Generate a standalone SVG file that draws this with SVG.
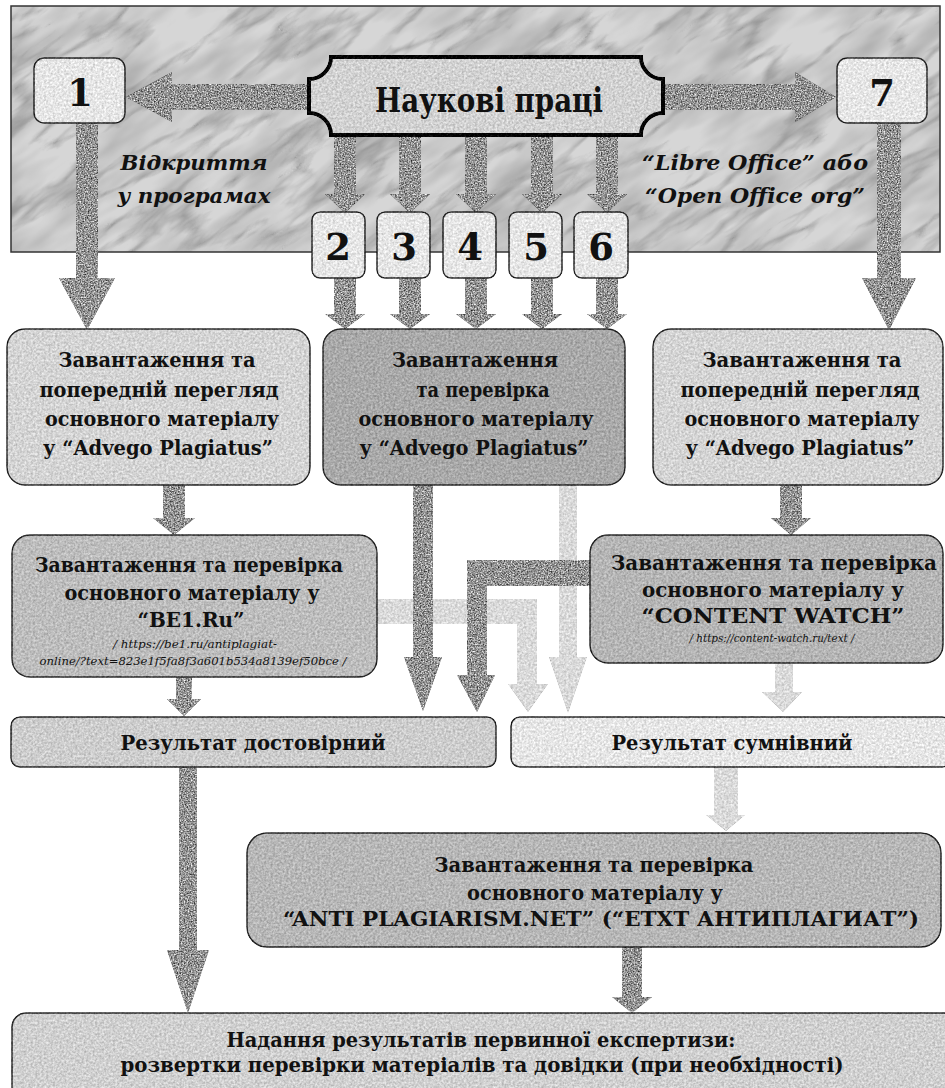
<svg xmlns="http://www.w3.org/2000/svg" width="945" height="1088" viewBox="0 0 945 1088">
<style>
.t{font-family:"DejaVu Serif","Liberation Serif",serif;font-weight:bold;font-stretch:condensed;fill:#111;text-anchor:middle}
.f25{font-size:21px}
.num{font-size:37px;font-stretch:normal}
.lab{font-family:"DejaVu Serif","Liberation Serif",serif;font-weight:bold;font-style:italic;font-stretch:condensed;font-size:21px;fill:#111;text-anchor:middle}
.url{font-family:"DejaVu Serif","Liberation Serif",serif;font-style:italic;font-stretch:condensed;font-size:11.5px;fill:#111;text-anchor:middle}
.bx{stroke:#262626;stroke-width:1.5}
.arr{fill:#939393}
.arrL{fill:#dadada}
</style>
<defs>
<filter id="grain" x="-3%" y="-3%" width="106%" height="106%" color-interpolation-filters="sRGB">
<feTurbulence type="fractalNoise" baseFrequency="0.45" numOctaves="2" seed="2" result="n"/>
<feColorMatrix in="n" type="matrix" values="1 0 0 0 0 1 0 0 0 0 1 0 0 0 0 0 0 0 0 1" result="g"/>
<feComposite in="SourceGraphic" in2="g" operator="arithmetic" k1="0" k2="1" k3="0.35" k4="-0.175" result="c"/>
<feComposite in="c" in2="SourceAlpha" operator="in"/>
</filter>
<filter id="granite" x="-3%" y="-3%" width="106%" height="106%" color-interpolation-filters="sRGB">
<feTurbulence type="fractalNoise" baseFrequency="0.7" numOctaves="2" seed="5" result="n"/>
<feColorMatrix in="n" type="matrix" values="1 0 0 0 0 1 0 0 0 0 1 0 0 0 0 0 0 0 0 1" result="g"/>
<feComposite in="SourceGraphic" in2="g" operator="arithmetic" k1="0" k2="1" k3="1.2" k4="-0.6" result="c"/>
<feComposite in="c" in2="SourceAlpha" operator="in"/>
</filter>
<filter id="marble" x="0" y="0" width="1" height="1" color-interpolation-filters="sRGB">
<feTurbulence type="turbulence" baseFrequency="0.008 0.03" numOctaves="4" seed="7" result="t"/>
<feColorMatrix in="t" type="matrix" values="0 0 0 0 0.45 0 0 0 0 0.45 0 0 0 0 0.45 -2.0 0 0 0 0.5" result="veins"/>
<feTurbulence type="fractalNoise" baseFrequency="0.012 0.04" numOctaves="3" seed="3" result="f"/>
<feColorMatrix in="f" type="matrix" values="0 0 0 0 0.62 0 0 0 0 0.62 0 0 0 0 0.62 1.4 0 0 0 -0.5" result="cloud"/>
<feFlood flood-color="#d6d6d6" result="base"/>
<feMerge><feMergeNode in="base"/><feMergeNode in="cloud"/><feMergeNode in="veins"/></feMerge>
</filter>
<clipPath id="panelClip"><rect x="11" y="6" width="929" height="246"/></clipPath>
</defs>

<rect x="0" y="0" width="945" height="1088" fill="#ffffff"/>

<g id="background">
<g clip-path="url(#panelClip)">
<g transform="rotate(-35 475 130)">
<rect x="-250" y="-450" width="1450" height="1150" filter="url(#marble)"/>
</g>
</g>
<rect x="11" y="6" width="929" height="246" fill="none" stroke="#333" stroke-width="1.5"/>
</g>

<g id="connectors">
<g filter="url(#grain)">
<polygon class="arrL" points="377,599 537,599 537,684 548,684 528,712 508,684 517,684 517,624 377,624"/>
<polygon class="arrL" points="559,485 577,485 577,657 587,657 568,713 549,657 559,657"/>
<polygon class="arrL" points="775,663 793,663 793,692 802,692 783,712 762,692 775,692"/>
<polygon class="arrL" points="714,767 738,767 738,815 745,815 726,831 706,815 714,815"/>
</g>
<g filter="url(#granite)">
<polygon class="arr" points="309,84 172,84 172,72 126,97 172,122 172,110 309,110"/>
<polygon class="arr" points="663,84 795,84 795,72 836,97 795,122 795,110 663,110"/>
<polygon class="arr" points="76,123 98,123 98,278 115,278 87,330 59,278 76,278"/>
<polygon class="arr" points="877,123 901,123 901,278 916,278 889,330 862,278 877,278"/>
<polygon class="arr" points="334,135 356,135 356,194 365,194 345,213 325,194 334,194"/>
<polygon class="arr" points="399,135 421,135 421,194 430,194 410,213 390,194 399,194"/>
<polygon class="arr" points="465,135 487,135 487,194 496,194 476,213 456,194 465,194"/>
<polygon class="arr" points="531,135 553,135 553,194 562,194 542,213 522,194 531,194"/>
<polygon class="arr" points="596,135 618,135 618,194 627,194 607,213 587,194 596,194"/>
<polygon class="arr" points="334,278 356,278 356,314 365,314 345,329 325,314 334,314"/>
<polygon class="arr" points="399,278 421,278 421,314 430,314 410,329 390,314 399,314"/>
<polygon class="arr" points="465,278 487,278 487,314 496,314 476,329 456,314 465,314"/>
<polygon class="arr" points="531,278 553,278 553,314 562,314 542,329 522,314 531,314"/>
<polygon class="arr" points="596,278 618,278 618,314 627,314 607,329 587,314 596,314"/>
<polygon class="arr" points="163,485 185,485 185,518 195,518 174,535 153,518 163,518"/>
<polygon class="arr" points="780,485 802,485 802,518 811,518 791,535 771,518 780,518"/>
<polygon class="arr" points="413,485 433,485 433,657 442,657 423,711 404,657 413,657"/>
<polygon class="arr" points="590,560 467,560 467,675 457,675 477,712 495,675 487,675 487,586 590,586"/>
<polygon class="arr" points="176,677 192,677 192,699 201,699 184,716 167,699 176,699"/>
<polygon class="arr" points="179,767 197,767 197,950 209,950 188,1013 167,950 179,950"/>
<polygon class="arr" points="622,947 642,947 642,997 652,997 632,1013 612,997 622,997"/>
</g>
</g>

<g id="n-works">
<path d="M331,57 H641 A22,22 0 0 0 663,79 V113 A22,22 0 0 0 641,135 H331 A22,22 0 0 0 309,113 V79 A22,22 0 0 0 331,57 Z" fill="#d2d2d2" stroke="#000" stroke-width="4" filter="url(#grain)"/>
<text class="t" x="489" y="112" font-size="33" textLength="228" lengthAdjust="spacingAndGlyphs">Наукові праці</text>
</g>

<g id="n-1">
<rect class="bx" x="34" y="58" width="91" height="65" rx="10" fill="#e6e6e6" filter="url(#grain)"/>
<text class="t num" x="80" y="106">1</text>
</g>
<g id="n-7">
<rect class="bx" x="837" y="58" width="90" height="65" rx="10" fill="#e6e6e6" filter="url(#grain)"/>
<text class="t num" x="882" y="106">7</text>
</g>
<g id="n-2">
<rect class="bx" x="312" y="212" width="53" height="66" rx="8" fill="#e6e6e6" filter="url(#grain)"/>
<text class="t num" x="338" y="260">2</text>
</g>
<g id="n-3">
<rect class="bx" x="377" y="212" width="53" height="66" rx="8" fill="#e6e6e6" filter="url(#grain)"/>
<text class="t num" x="404" y="260">3</text>
</g>
<g id="n-4">
<rect class="bx" x="443" y="212" width="53" height="66" rx="8" fill="#e6e6e6" filter="url(#grain)"/>
<text class="t num" x="470" y="260">4</text>
</g>
<g id="n-5">
<rect class="bx" x="509" y="212" width="53" height="66" rx="8" fill="#e6e6e6" filter="url(#grain)"/>
<text class="t num" x="536" y="260">5</text>
</g>
<g id="n-6">
<rect class="bx" x="574" y="212" width="54" height="66" rx="8" fill="#e6e6e6" filter="url(#grain)"/>
<text class="t num" x="601" y="260">6</text>
</g>

<g id="labels">
<text class="lab" x="194" y="170" textLength="147" lengthAdjust="spacingAndGlyphs">Відкриття</text>
<text class="lab" x="194" y="203" textLength="153" lengthAdjust="spacingAndGlyphs">у програмах</text>
<text class="lab" x="755" y="170" textLength="226" lengthAdjust="spacingAndGlyphs">“Libre Office” або</text>
<text class="lab" x="755" y="203" textLength="220" lengthAdjust="spacingAndGlyphs">“Open Office org”</text>
</g>

<g id="n-adv-left">
<rect class="bx" x="7" y="329" width="303" height="156" rx="18" fill="#d4d4d4" filter="url(#grain)"/>
<text class="t f25" x="157" y="367" textLength="197" lengthAdjust="spacingAndGlyphs">Завантаження та</text>
<text class="t f25" x="159" y="397" textLength="239" lengthAdjust="spacingAndGlyphs">попередній перегляд</text>
<text class="t f25" x="162" y="426" textLength="234" lengthAdjust="spacingAndGlyphs">основного матеріалу</text>
<text class="t f25" x="158" y="455" textLength="230" lengthAdjust="spacingAndGlyphs">у “Advego Plagiatus”</text>
</g>
<g id="n-adv-mid">
<rect class="bx" x="323" y="329" width="302" height="156" rx="18" fill="#a9a9a9" filter="url(#grain)"/>
<text class="t f25" x="475" y="367" textLength="166" lengthAdjust="spacingAndGlyphs">Завантаження</text>
<text class="t f25" x="483" y="397" textLength="133" lengthAdjust="spacingAndGlyphs">та перевірка</text>
<text class="t f25" x="476" y="426" textLength="235" lengthAdjust="spacingAndGlyphs">основного матеріалу</text>
<text class="t f25" x="474" y="455" textLength="229" lengthAdjust="spacingAndGlyphs">у “Advego Plagiatus”</text>
</g>
<g id="n-adv-right">
<rect class="bx" x="653" y="329" width="290" height="156" rx="18" fill="#d4d4d4" filter="url(#grain)"/>
<text class="t f25" x="802" y="367" textLength="199" lengthAdjust="spacingAndGlyphs">Завантаження та</text>
<text class="t f25" x="800" y="397" textLength="239" lengthAdjust="spacingAndGlyphs">попередній перегляд</text>
<text class="t f25" x="802" y="426" textLength="235" lengthAdjust="spacingAndGlyphs">основного матеріалу</text>
<text class="t f25" x="800" y="455" textLength="229" lengthAdjust="spacingAndGlyphs">у “Advego Plagiatus”</text>
</g>

<g id="n-be1">
<rect class="bx" x="12" y="535" width="365" height="142" rx="18" fill="#bdbdbd" filter="url(#grain)"/>
<text class="t f25" x="189" y="572" textLength="308" lengthAdjust="spacingAndGlyphs">Завантаження та перевірка</text>
<text class="t f25" x="192" y="600" textLength="255" lengthAdjust="spacingAndGlyphs">основного матеріалу у</text>
<text class="t f25" x="191" y="627" textLength="107" lengthAdjust="spacingAndGlyphs">“BE1.Ru”</text>
<text class="url" x="195" y="648" textLength="164" lengthAdjust="spacingAndGlyphs">/ https://be1.ru/antiplagiat-</text>
<text class="url" x="193" y="665" textLength="307" lengthAdjust="spacingAndGlyphs">online/?text=823e1f5fa8f3a601b534a8139ef50bce /</text>
</g>
<g id="n-cw">
<rect class="bx" x="590" y="535" width="353" height="128" rx="18" fill="#b5b5b5" filter="url(#grain)"/>
<text class="t f25" x="774" y="570" textLength="326" lengthAdjust="spacingAndGlyphs">Завантаження та перевірка</text>
<text class="t f25" x="773" y="597" textLength="262" lengthAdjust="spacingAndGlyphs">основного матеріалу у</text>
<text class="t f25" x="773" y="623" textLength="263" lengthAdjust="spacingAndGlyphs">“CONTENT WATCH”</text>
<text class="url" x="772" y="642" textLength="165" lengthAdjust="spacingAndGlyphs">/ https://content-watch.ru/text /</text>
</g>

<g id="n-reliable">
<rect class="bx" x="11" y="717" width="485" height="50" rx="9" fill="#cdcdcd" filter="url(#grain)"/>
<text class="t f25" x="253" y="750" textLength="265" lengthAdjust="spacingAndGlyphs">Результат достовірний</text>
</g>
<g id="n-doubtful">
<rect class="bx" x="511" y="717" width="440" height="50" rx="9" fill="#e6e6e6" filter="url(#grain)"/>
<text class="t f25" x="732" y="750" textLength="241" lengthAdjust="spacingAndGlyphs">Результат сумнівний</text>
</g>

<g id="n-anti">
<rect class="bx" x="247" y="833" width="694" height="114" rx="20" fill="#b7b7b7" filter="url(#grain)"/>
<text class="t f25" x="594" y="872" textLength="319" lengthAdjust="spacingAndGlyphs">Завантаження та перевірка</text>
<text class="t f25" x="595" y="900" textLength="256" lengthAdjust="spacingAndGlyphs">основного матеріалу у</text>
<text class="t f25" x="601" y="926" textLength="636" lengthAdjust="spacingAndGlyphs">“ANTI PLAGIARISM.NET” (“ETXT АНТИПЛАГИАТ”)</text>
</g>

<g id="n-final">
<rect class="bx" x="12" y="1013" width="945" height="90" rx="14" fill="#d0d0d0" filter="url(#grain)"/>
<text class="t f25" x="481" y="1047" textLength="509" lengthAdjust="spacingAndGlyphs">Надання результатів первинної експертизи:</text>
<text class="t f25" x="482" y="1072" textLength="723" lengthAdjust="spacingAndGlyphs">розвертки перевірки матеріалів та довідки (при необхідності)</text>
</g>
</svg>
